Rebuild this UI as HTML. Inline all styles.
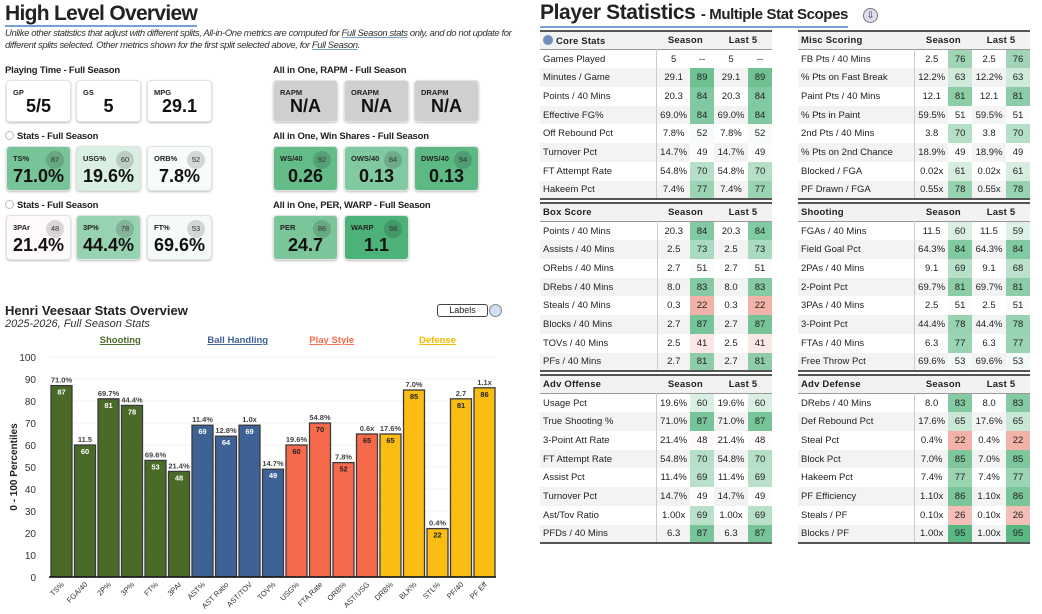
<!DOCTYPE html>
<html><head><meta charset="utf-8">
<style>
*{box-sizing:border-box;margin:0;padding:0}
body{width:1042px;height:614px;background:#fff;font-family:"Liberation Sans",Arial,sans-serif;color:#222;position:relative;overflow:hidden}
.abs{position:absolute}
.h1{left:5px;top:2px;font-size:21px;font-weight:bold;letter-spacing:-0.7px;border-bottom:2px solid #7a9fd4;line-height:23px}
.sub{left:5px;top:28px;font-size:9.5px;font-style:italic;color:#333;line-height:12px;width:522px;letter-spacing:-0.4px}
.sub u{text-decoration-color:#7a9fd4}
.sec{font-size:9.5px;font-weight:bold;color:#222;letter-spacing:-0.2px}
.card{position:absolute;border-radius:4px;box-shadow:0 1px 2px rgba(0,0,0,.25);border:1px solid #e2e2e2}
.card .lb{position:absolute;left:6px;top:7px;font-size:7.5px;font-weight:bold;color:#222}
.card .vl{position:absolute;left:0;right:0;top:17px;text-align:center;font-size:18px;font-weight:bold;color:#111}
.card .bd{position:absolute;right:6px;top:4px;width:18px;height:18px;border-radius:9px;font-size:7.5px;text-align:center;line-height:18px;color:#333;background:rgba(0,0,0,.14)}
.radio{display:inline-block;width:9px;height:9px;border:1px solid #bbb;border-radius:50%;vertical-align:-1px;margin-right:3px}
table{border-collapse:collapse;font-size:9.5px;position:absolute}
td,th{height:18.7px;padding:0 3px;white-space:nowrap}
th{font-weight:bold;background:#f2f2f2;text-align:center;letter-spacing:.2px}
th.l{text-align:left}
tr.alt td{background:#f3f3f3}
td.sep{border-right:1px solid #ccc}
td.v{text-align:center}
td.p{text-align:center}
table{border-top:2px solid #555;border-bottom:2px solid #555}
thead tr{border-bottom:1px solid #999}
</style></head><body>

<div class="abs h1">High Level Overview</div>
<div class="abs sub">Unlike other statistics that adjust with different splits, All-in-One metrics are computed for <u>Full Season stats</u> only, and do not update for different splits selected. Other metrics shown for the first split selected above, for <u>Full Season</u>.</div>

<div class="abs sec" style="left:5px;top:65px">Playing Time - Full Season</div>
<div class="abs sec" style="left:5px;top:131px"><span class="radio"></span>Stats - Full Season</div>
<div class="abs sec" style="left:5px;top:200px"><span class="radio"></span>Stats - Full Season</div>
<div class="abs sec" style="left:273px;top:65px">All in One, RAPM - Full Season</div>
<div class="abs sec" style="left:273px;top:131px">All in One, Win Shares - Full Season</div>
<div class="abs sec" style="left:273px;top:200px">All in One, PER, WARP - Full Season</div>

<div id="cards"></div>

<div class="abs" style="left:5px;top:303px;font-size:13px;font-weight:bold;color:#222">Henri Veesaar Stats Overview</div>
<div class="abs" style="left:5px;top:318px;font-size:11px;font-style:italic;color:#333">2025-2026, Full Season Stats</div>
<div class="abs" style="left:437px;top:304px;width:51px;height:13px;border:1px solid #444;border-radius:3px;font-size:9px;text-align:center;line-height:11px">Labels</div>
<div class="abs" style="left:489px;top:304px;width:13px;height:13px;border:1px solid #888;border-radius:50%;background:#cfe0f3"></div>

<svg id="chart" class="abs" style="left:0;top:330px" width="520" height="284"></svg>

<div class="abs" style="left:540px;top:2px;font-size:21px;font-weight:bold;letter-spacing:-0.4px;color:#222;border-bottom:2px solid #7a9fd4;line-height:22px">Player Statistics <span style="font-size:15px">- Multiple Stat Scopes</span></div>
<div class="abs" style="left:863px;top:8px;width:15px;height:15px;border-radius:50%;border:1px solid #777;background:#dde;font-size:9px;text-align:center;line-height:13px">⇩</div>

<div id="tables"></div>

<script>
function pc(p){
  if(p>=50){var t=(p-50)/50;return 'rgb('+Math.round(255-t*185)+','+Math.round(255-t*80)+','+Math.round(255-t*140)+')';}
  var t=(50-p)/50;return 'rgb('+Math.round(255-t*25)+','+Math.round(255-t*135)+','+Math.round(255-t*155)+')';
}
var cardDefs=[
 [6,80,'GP','5/5',null,'#fff'],[76,80,'GS','5',null,'#fff'],[147,80,'MPG','29.1',null,'#fff'],
 [273,80,'RAPM','N/A',null,'#cfcfcf'],[344,80,'ORAPM','N/A',null,'#cfcfcf'],[414,80,'DRAPM','N/A',null,'#cfcfcf'],
 [6,146,'TS%','71.0%',87],[76,146,'USG%','19.6%',60],[147,146,'ORB%','7.8%',52],
 [273,146,'WS/40','0.26',92],[344,146,'OWS/40','0.13',84],[414,146,'DWS/40','0.13',94],
 [6,215,'3PAr','21.4%',48],[76,215,'3P%','44.4%',78],[147,215,'FT%','69.6%',53],
 [273,215,'PER','24.7',86],[344,215,'WARP','1.1',98]
];
var cc=document.getElementById('cards');
cardDefs.forEach(function(c){
  var d=document.createElement('div');d.className='card';
  
  
  var h=(c[1]==80)?42:45;
  d.style.cssText='left:'+c[0]+'px;top:'+c[1]+'px;width:65px;height:'+h+'px;background:'+(c[5]||pc(c[4]));
  d.innerHTML='<div class="lb">'+c[2]+'</div><div class="vl" style="top:'+(c[4]==null?15:19)+'px">'+c[3]+'</div>'+(c[4]!=null?'<div class="bd">'+c[4]+'</div>':'');
  cc.appendChild(d);
});
var T=[
 [540,30,'Core Stats',[['Games Played','5','--'],['Minutes / Game','29.1',89],['Points / 40 Mins','20.3',84],['Effective FG%','69.0%',84],['Off Rebound Pct','7.8%',52],['Turnover Pct','14.7%',49],['FT Attempt Rate','54.8%',70],['Hakeem Pct','7.4%',77]]],
 [798,30,'Misc Scoring',[['FB Pts / 40 Mins','2.5',76],['% Pts on Fast Break','12.2%',63],['Paint Pts / 40 Mins','12.1',81],['% Pts in Paint','59.5%',51],['2nd Pts / 40 Mins','3.8',70],['% Pts on 2nd Chance','18.9%',49],['Blocked / FGA','0.02x',61],['PF Drawn / FGA','0.55x',78]]],
 [540,202,'Box Score',[['Points / 40 Mins','20.3',84],['Assists / 40 Mins','2.5',73],['ORebs / 40 Mins','2.7',51],['DRebs / 40 Mins','8.0',83],['Steals / 40 Mins','0.3',22],['Blocks / 40 Mins','2.7',87],['TOVs / 40 Mins','2.5',41],['PFs / 40 Mins','2.7',81]]],
 [798,202,'Shooting',[['FGAs / 40 Mins','11.5',60,59],['Field Goal Pct','64.3%',84],['2PAs / 40 Mins','9.1',69,68],['2-Point Pct','69.7%',81],['3PAs / 40 Mins','2.5',51],['3-Point Pct','44.4%',78],['FTAs / 40 Mins','6.3',77],['Free Throw Pct','69.6%',53]]],
 [540,374,'Adv Offense',[['Usage Pct','19.6%',60],['True Shooting %','71.0%',87],['3-Point Att Rate','21.4%',48],['FT Attempt Rate','54.8%',70],['Assist Pct','11.4%',69],['Turnover Pct','14.7%',49],['Ast/Tov Ratio','1.00x',69],['PFDs / 40 Mins','6.3',87]]],
 [798,374,'Adv Defense',[['DRebs / 40 Mins','8.0',83],['Def Rebound Pct','17.6%',65],['Steal Pct','0.4%',22],['Block Pct','7.0%',85],['Hakeem Pct','7.4%',77],['PF Efficiency','1.10x',86],['Steals / PF','0.10x',26],['Blocks / PF','1.00x',95]]]
];
var tc=document.getElementById('tables');
T.forEach(function(t){
  var tb=document.createElement('table');
  
  
  tb.style.left=t[0]+'px';tb.style.top=t[1]+'px';tb.style.width='232px';
  var h='<colgroup><col style="width:117px"><col style="width:33px"><col style="width:24px"><col style="width:34px"><col style="width:24px"></colgroup>';
  h+='<thead><tr><th class="l">'+(t[2]=='Core Stats'?'<span style="display:inline-block;width:10px;height:10px;border-radius:50%;background:#6f8fc4;vertical-align:-1px;margin-right:3px"></span>':'')+t[2]+'</th><th colspan="2">Season</th><th colspan="2">Last 5</th></tr></thead><tbody>';
  t[3].forEach(function(r,i){
    var p1=r[2],p2=r[3]!=null?r[3]:r[2];
    var b1=typeof p1=='number'?'background:'+pc(p1)+' !important':'';
    var b2=typeof p2=='number'?'background:'+pc(p2)+' !important':'';
    h+='<tr class="'+(i%2?'alt':'')+'"><td class="sep">'+r[0]+'</td><td class="v">'+r[1]+'</td><td class="p" style="'+b1+'">'+p1+'</td><td class="v">'+r[1]+'</td><td class="p" style="'+b2+'">'+p2+'</td></tr>';
  });
  tb.innerHTML=h+'</tbody>';
  tc.appendChild(tb);
});
</script>

<script>
var categories=['TS%','FGA/40','2P%','3P%','FT%','3PAr','AST%','AST Ratio','AST/TOV','TOV%','USG%','FTA Rate','ORB%','AST/USG','DRB%','BLK%','STL%','PF/40','PF Eff'];
var percentiles=[87,60,81,78,53,48,69,64,69,49,60,70,52,65,65,85,22,81,86];
var printedValues=['71.0%','11.5','69.7%','44.4%','69.6%','21.4%','11.4%','12.8%','1.0x','14.7%','19.6%','54.8%','7.8%','0.6x','17.6%','7.0%','0.4%','2.7','1.1x'];
var groupOf=[0,0,0,0,0,0,1,1,1,1,2,2,2,2,3,3,3,3,3];
var groupNames=['Shooting','Ball Handling','Play Style','Defense'];
var yTicks=[0,10,20,30,40,50,60,70,80,90,100];

var svg=document.getElementById('chart'),NS='http://www.w3.org/2000/svg';
var OY=330;
var gcol=['#4a6b28','#3f6296','#f66a4b','#fbbd12'];
var gtxt=['#fff','#fff','#222','#222'];
var x0=51,step=23.5,bw=21;
function xs(i){return x0+i*step;}
function ys(v){return (577-OY)-v*2.2;}
function el(tag,a,txt){var e=document.createElementNS(NS,tag);for(var k in a)e.setAttribute(k,a[k]);if(txt!=null)e.textContent=txt;svg.appendChild(e);return e;}
yTicks.forEach(function(v){
  var g=el('line',{x1:50,x2:496,y1:ys(v),y2:ys(v),stroke:'#f0f0f0'});
  
  
  var t=el('text',{x:36,y:ys(v)+4,'text-anchor':'end','font-size':10,fill:'#333'},v);
  
  
});
var yt=el('text',{x:0,y:0,'text-anchor':'middle','font-size':10,'font-weight':'bold',fill:'#222',transform:'translate(17,'+ys(50)+') rotate(-90)'},'0 - 100 Percentiles');


[0,1,2,3].forEach(function(g){
  var idx=[];groupOf.forEach(function(v,i){if(v==g)idx.push(i);});
  var cx=(xs(idx[0])+xs(idx[idx.length-1])+bw)/2;
  var t=el('text',{x:cx,y:13,'text-anchor':'middle','font-size':9.5,'font-weight':'bold',fill:gcol[g]==='#fbbd12'?'#f5b800':gcol[g],'text-decoration':'underline'},groupNames[g]);
  
  
});
percentiles.forEach(function(v,i){
  var x=xs(i),y=ys(v),g=groupOf[i];
  var r=el('rect',{x:x,y:y,width:bw,height:ys(0)-y,fill:gcol[g],stroke:'#3a3a3a','stroke-width':1.3});
  
  
  var pv=el('text',{x:x+bw/2,y:y-3,'text-anchor':'middle','font-size':7.5,'font-weight':'bold',fill:'#444'},printedValues[i]);
  
  
  var pt=el('text',{x:x+bw/2,y:y+9,'text-anchor':'middle','font-size':7.5,'font-weight':'bold',fill:gtxt[g]},v);
  
  
  var xl=el('text',{x:0,y:0,'text-anchor':'end','font-size':7.5,fill:'#333',transform:'translate('+(x+bw/2+3)+','+(ys(0)+8)+') rotate(-45)'},categories[i]);
  
  
});
var ax=el('line',{x1:49,x2:496,y1:ys(0),y2:ys(0),stroke:'#111','stroke-width':1.5});


</script>
</body></html>
